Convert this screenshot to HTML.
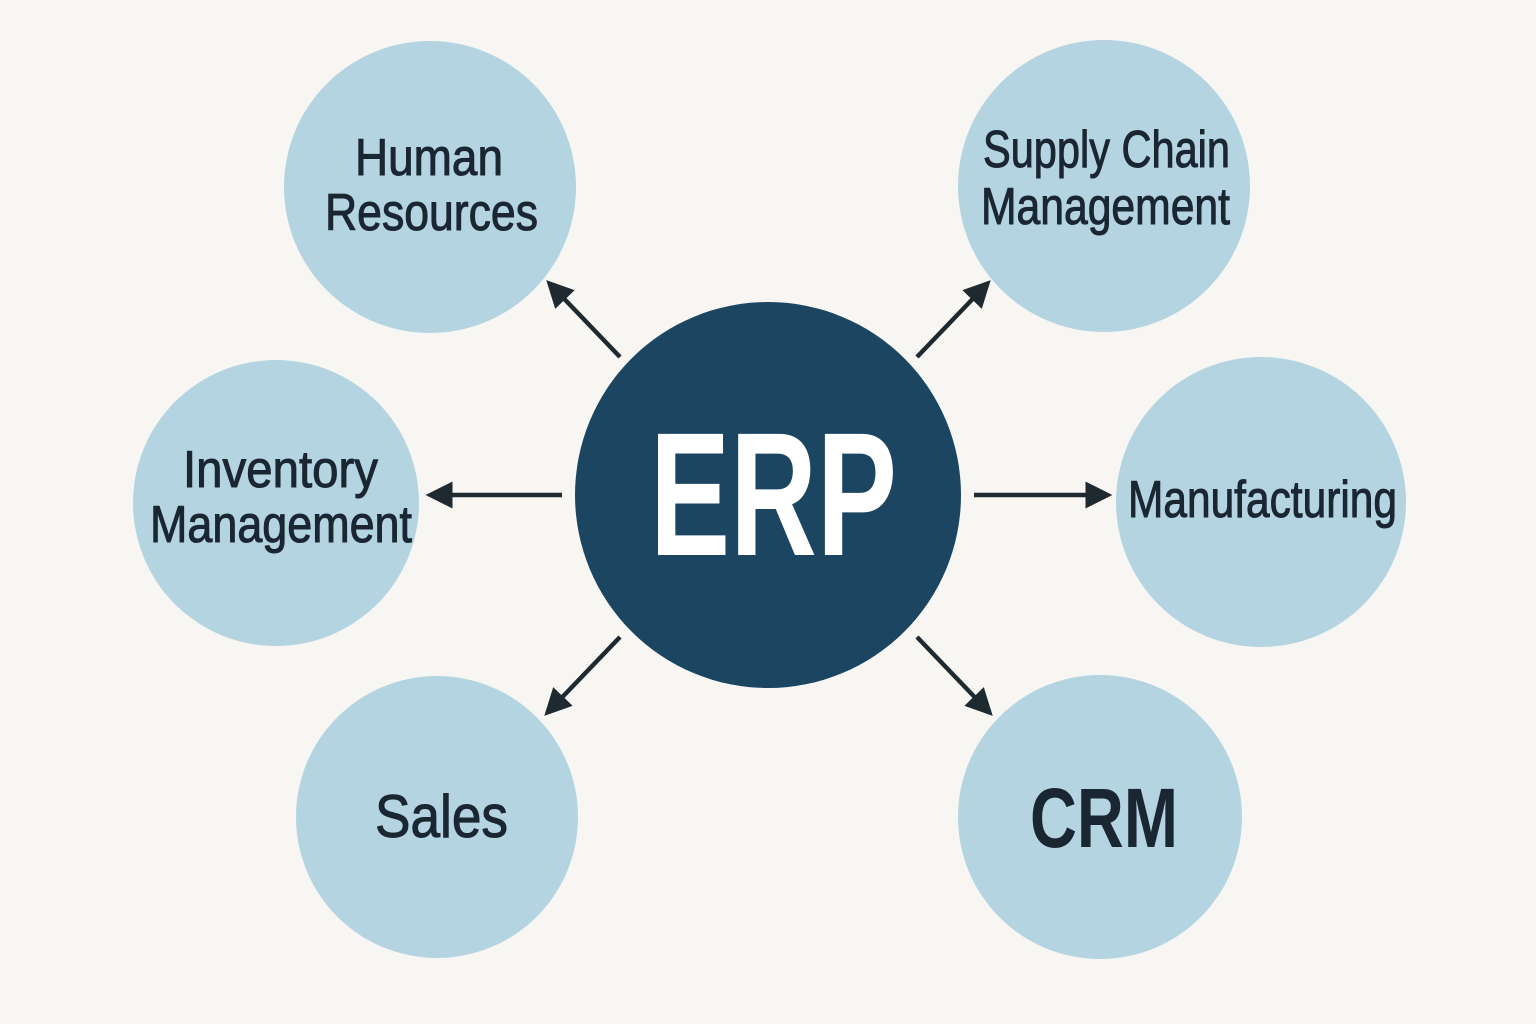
<!DOCTYPE html>
<html><head><meta charset="utf-8"><style>
html,body{margin:0;padding:0;background:#f7f6f3;}
svg{display:block}
text{font-family:"Liberation Sans",sans-serif;fill:#1a2733;}
</style></head><body>
<svg width="1536" height="1024" viewBox="0 0 1536 1024">
<defs><marker id="a" viewBox="0 0 10 10" refX="8" refY="5" markerWidth="6" markerHeight="6" orient="auto"><path d="M0,0 L10,5 L0,10 z" fill="#1f2a30"/></marker></defs>
<rect width="1536" height="1024" fill="#f7f6f3"/>
<g fill="#b5d4e1">
<circle cx="430" cy="187" r="146"/>
<circle cx="1104" cy="186" r="146"/>
<circle cx="276" cy="503" r="143"/>
<circle cx="1261" cy="502" r="145"/>
<circle cx="437" cy="817" r="141"/>
<circle cx="1100" cy="817" r="142"/>
</g>
<circle cx="768" cy="495" r="193" fill="#1b4560"/>
<g stroke="#1f2a30" stroke-width="4.5" marker-end="url(#a)" fill="none">
<line x1="620" y1="357" x2="550" y2="284"/>
<line x1="917" y1="357" x2="987" y2="284"/>
<line x1="562" y1="495" x2="431" y2="495"/>
<line x1="974" y1="495" x2="1107" y2="495"/>
<line x1="620" y1="637" x2="548" y2="712"/>
<line x1="917" y1="637" x2="989" y2="712"/>
</g>
<g font-size="52" stroke="#1a2733" stroke-width="1">
<text x="355" y="175" textLength="148" lengthAdjust="spacingAndGlyphs">Human</text>
<text x="325" y="230" textLength="213" lengthAdjust="spacingAndGlyphs">Resources</text>
<text x="983" y="167" textLength="247" lengthAdjust="spacingAndGlyphs">Supply Chain</text>
<text x="981" y="224" textLength="249" lengthAdjust="spacingAndGlyphs">Management</text>
<text x="183" y="487" textLength="195" lengthAdjust="spacingAndGlyphs">Inventory</text>
<text x="150" y="542" textLength="262" lengthAdjust="spacingAndGlyphs">Management</text>
<text x="1128" y="517" textLength="269" lengthAdjust="spacingAndGlyphs">Manufacturing</text>
<text x="375" y="837" font-size="60" textLength="133" lengthAdjust="spacingAndGlyphs">Sales</text>
</g>
<text x="1030" y="847" font-size="84" font-weight="bold" textLength="148" lengthAdjust="spacingAndGlyphs">CRM</text>
<text x="650" y="555" font-size="176" font-weight="bold" style="fill:#ffffff" textLength="247" lengthAdjust="spacingAndGlyphs">ERP</text>
</svg>
</body></html>
